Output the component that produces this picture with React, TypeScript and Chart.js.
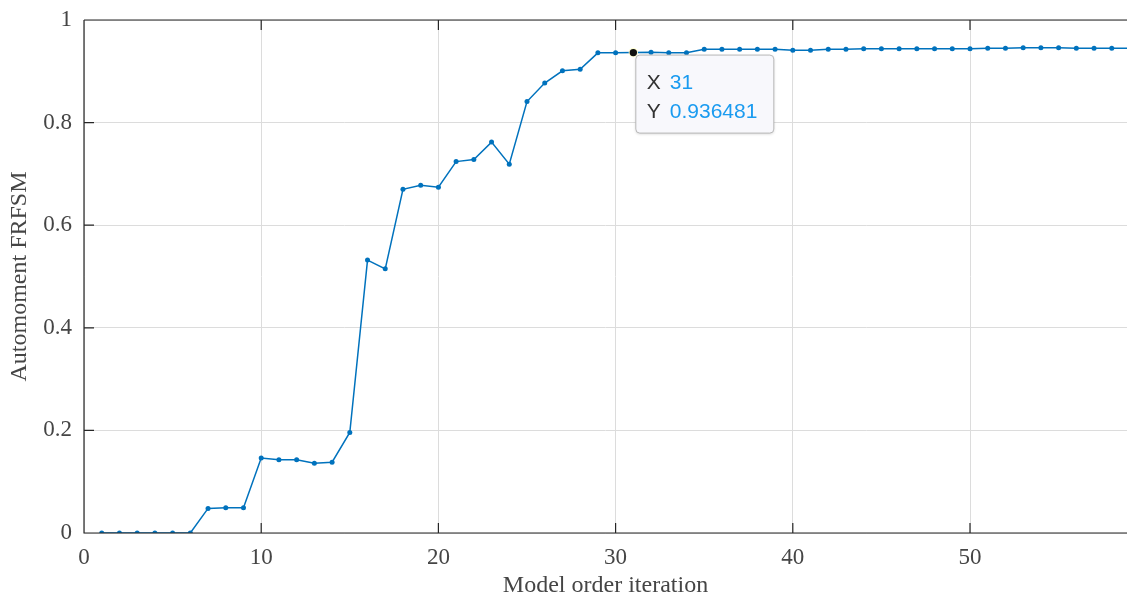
import React, { useEffect, useRef } from "react";
import { Chart, registerables } from "chart.js";

Chart.register(...registerables);

// ---- data ----
const iterations: number[] = [
  1, 2, 3, 4, 5, 6, 7, 8, 9, 10,
  11, 12, 13, 14, 15, 16, 17, 18, 19, 20,
  21, 22, 23, 24, 25, 26, 27, 28, 29, 30,
  31, 32, 33, 34, 35, 36, 37, 38, 39, 40,
  41, 42, 43, 44, 45, 46, 47, 48, 49, 50,
  51, 52, 53, 54, 55, 56, 57, 58, 59,
];
const frfsm: number[] = [
  0, 0, 0, 0, 0, 0, 0.048, 0.049, 0.049, 0.146,
  0.143, 0.143, 0.136, 0.138, 0.196, 0.532, 0.515, 0.67, 0.678, 0.674,
  0.724, 0.728, 0.762, 0.719, 0.841, 0.877, 0.901, 0.904, 0.936, 0.936,
  0.936481, 0.937, 0.936, 0.936, 0.943, 0.943, 0.943, 0.943, 0.943, 0.941,
  0.941, 0.943, 0.943, 0.944, 0.944, 0.944, 0.944, 0.944, 0.944, 0.944,
  0.945, 0.945, 0.946, 0.946, 0.946, 0.945, 0.945, 0.945, 0.945,
];
const xTicks: number[] = [0, 10, 20, 30, 40, 50];
const yTicks: number[] = [0, 0.2, 0.4, 0.6, 0.8, 1];
const yTickLabels: string[] = ["0", "0.2", "0.4", "0.6", "0.8", "1"];
const xLimits: number[] = [0, 58.86];
const yLimits: number[] = [0, 1];
const datatipIndex = 30;
const xTitle = "Model order iteration";
const yTitle = "Automoment FRFSM";

const AXIS_COLOR = "#262626";
const LABEL_COLOR = "#454545";
const GRID_COLOR = "#dcdcdc";
const LINE_COLOR = "#0072BD";
const SERIF = "'Liberation Serif', 'Times New Roman', serif";
const SANS = "'Liberation Sans', Arial, sans-serif";

const boxPlugin = {
  id: "matlabBox",
  afterDatasetsDraw(chart: any) {
    const { ctx, chartArea } = chart;
    const { left, right, top, bottom } = chartArea;
    const xs = chart.scales.x;
    const ys = chart.scales.y;
    const tl = 10;
    ctx.save();
    ctx.strokeStyle = AXIS_COLOR;
    ctx.lineWidth = 1.2;
    ctx.beginPath();
    ctx.moveTo(left, top);
    ctx.lineTo(right + 2, top);
    ctx.moveTo(left, top);
    ctx.lineTo(left, bottom);
    ctx.lineTo(right + 2, bottom);
    xTicks.forEach((v) => {
      const px = xs.getPixelForValue(v);
      ctx.moveTo(px, bottom);
      ctx.lineTo(px, bottom - tl);
      ctx.moveTo(px, top);
      ctx.lineTo(px, top + tl);
    });
    yTicks.forEach((v) => {
      const py = ys.getPixelForValue(v);
      ctx.moveTo(left, py);
      ctx.lineTo(left + tl, py);
    });
    ctx.stroke();

    // datatip
    const dx = xs.getPixelForValue(iterations[datatipIndex]);
    const dy = ys.getPixelForValue(frfsm[datatipIndex]);
    ctx.beginPath();
    ctx.arc(dx, dy, 4.6, 0, Math.PI * 2);
    ctx.fillStyle = "#ffffd0";
    ctx.fill();
    ctx.beginPath();
    ctx.arc(dx, dy, 3.7, 0, Math.PI * 2);
    ctx.fillStyle = "#111111";
    ctx.fill();

    const bx = dx + 2.5;
    const by = dy + 2.5;
    const bw = 138;
    const bh = 78;
    ctx.shadowColor = "rgba(0,0,0,0.18)";
    ctx.shadowBlur = 3;
    ctx.shadowOffsetY = 1;
    ctx.beginPath();
    (ctx as any).roundRect(bx, by, bw, bh, 4);
    ctx.fillStyle = "#f8f8fc";
    ctx.fill();
    ctx.shadowColor = "transparent";
    ctx.strokeStyle = "#b8b8b8";
    ctx.lineWidth = 1;
    ctx.stroke();

    ctx.font = `21px ${SANS}`;
    ctx.textBaseline = "middle";
    ctx.textAlign = "left";
    ctx.fillStyle = "#333333";
    ctx.fillText("X", bx + 11, by + 28);
    ctx.fillText("Y", bx + 11, by + 57);
    ctx.fillStyle = "#1a9bf0";
    ctx.fillText(String(iterations[datatipIndex]), bx + 34, by + 28);
    ctx.fillText(String(frfsm[datatipIndex]), bx + 34, by + 57);
    ctx.restore();
  },
};

export default function App() {
  const ref = useRef<HTMLCanvasElement | null>(null);
  useEffect(() => {
    if (!ref.current) return;
    const chart = new Chart(ref.current, {
      type: "line",
      data: {
        datasets: [
          {
            data: iterations.map((x, i) => ({ x, y: frfsm[i] })),
            borderColor: LINE_COLOR,
            backgroundColor: LINE_COLOR,
            borderWidth: 1.5,
            pointRadius: 2.5,
            pointHoverRadius: 2.5,
            pointBorderWidth: 0,
            pointBackgroundColor: LINE_COLOR,
            tension: 0,
            fill: false,
          },
        ],
      },
      options: {
        animation: false,
        responsive: false,
        events: [],
        layout: { autoPadding: false, padding: { top: 20, right: 0, bottom: 0, left: 0 } },
        plugins: { legend: { display: false }, tooltip: { enabled: false } },
        scales: {
          x: {
            type: "linear",
            min: xLimits[0],
            max: xLimits[1],
            afterBuildTicks: (s: any) => {
              s.ticks = xTicks.map((v) => ({ value: v }));
            },
            afterFit: (s: any) => {
              s.height = 65;
              s.paddingLeft = 0;
              s.paddingRight = 0;
            },
            ticks: {
              padding: 11,
              color: LABEL_COLOR,
              font: { family: SERIF, size: 23 },
              maxRotation: 0,
              callback: (v: any) => String(v),
            },
            grid: { color: GRID_COLOR, lineWidth: 1, drawTicks: false },
            border: { display: false },
            title: {
              display: true,
              text: xTitle,
              color: LABEL_COLOR,
              font: { family: SERIF, size: 24, lineHeight: 1 },
              padding: { top: 0, bottom: 0 },
            },
          },
          y: {
            type: "linear",
            min: yLimits[0],
            max: yLimits[1],
            afterBuildTicks: (s: any) => {
              s.ticks = yTicks.map((v) => ({ value: v }));
            },
            afterFit: (s: any) => {
              s.width = 84;
              s.paddingTop = 0;
              s.paddingBottom = 0;
            },
            ticks: {
              padding: 12,
              color: LABEL_COLOR,
              font: { family: SERIF, size: 23 },
              callback: (v: any) => {
                const i = yTicks.findIndex((t) => Math.abs(t - v) < 1e-9);
                return i >= 0 ? yTickLabels[i] : "";
              },
            },
            grid: { color: GRID_COLOR, lineWidth: 1, drawTicks: false },
            border: { display: false },
            title: {
              display: true,
              text: yTitle,
              color: LABEL_COLOR,
              font: { family: SERIF, size: 24, lineHeight: 1 },
              padding: { top: 8, bottom: 0 },
            },
          },
        },
      },
      plugins: [boxPlugin],
    } as any);
    return () => chart.destroy();
  }, []);
  return (
    <div style={{ position: "absolute", left: 0, top: 0, width: 1127, height: 598, background: "#fff" }}>
      <canvas ref={ref} width={1127} height={598} style={{ display: "block" }} />
    </div>
  );
}
